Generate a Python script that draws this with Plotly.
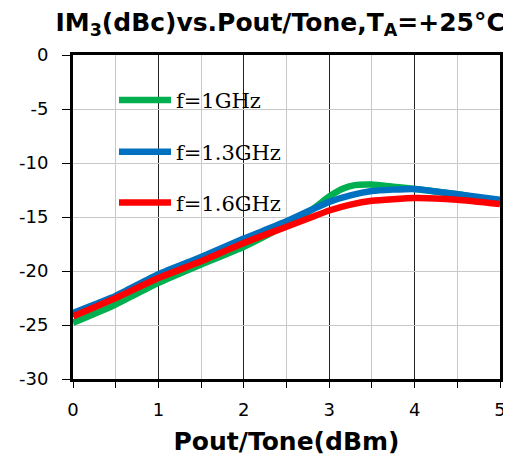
import plotly.graph_objects as go

x_green = [0, 0.5, 1, 1.5, 2, 2.5, 2.8, 3.0, 3.15, 3.3, 3.5, 3.75, 4, 4.5, 5]
y_green = [-24.8, -23.1, -21.1, -19.4, -17.75, -15.7, -14.3, -13.1, -12.4, -12.05, -12.0, -12.2, -12.4, -12.9, -13.6]

x_blue = [0, 0.25, 0.5, 1, 1.5, 2, 2.5, 2.8, 3, 3.25, 3.5, 4, 4.5, 5]
y_blue = [-23.9, -23.1, -22.3, -20.3, -18.7, -17.0, -15.4, -14.3, -13.6, -13.0, -12.6, -12.4, -12.9, -13.4]

x_red = [0, 0.5, 1, 1.5, 2, 2.5, 2.8, 3, 3.25, 3.5, 4, 4.5, 5]
y_red = [-24.2, -22.5, -20.65, -19.1, -17.4, -15.9, -15.0, -14.4, -13.85, -13.5, -13.25, -13.4, -13.8]

names = ["f=1GHz", "f=1.3GHz", "f=1.6GHz"]
colors = ["#00B050", "#0070C0", "#FF0000"]
x_ticks = [0, 1, 2, 3, 4, 5]
y_ticks = [0, -5, -10, -15, -20, -25, -30]

fig = go.Figure()
legend_ids = ["legend", "legend2", "legend3"]
for xs, ys, nm, c, lg in zip([x_green, x_blue, x_red], [y_green, y_blue, y_red], names, colors, legend_ids):
    fig.add_trace(go.Scatter(x=xs, y=ys, mode="lines", name=nm,
                             line=dict(color=c, width=6.5, shape="spline", smoothing=0.5),
                             legend=lg))

legend_font = dict(family="DejaVu Serif, Liberation Serif, serif", size=21, color="black")
leg_common = dict(bgcolor="rgba(0,0,0,0)", font=legend_font, xanchor="left", yanchor="middle",
                  itemwidth=52, tracegroupgap=0)
fig.update_layout(
    width=503, height=457,
    margin=dict(l=65, r=11, t=47, b=86),
    paper_bgcolor="white", plot_bgcolor="white",
    title=dict(text="IM<sub>3</sub>(dBc)vs.Pout/Tone,T<sub>A</sub>=+25°C",
               font=dict(family="DejaVu Sans", size=25, color="black", weight="bold"),
               x=0.541, xanchor="center", y=0.969, yanchor="middle"),
    legend=dict(x=0.096, y=(-4.2 + 30) / 30, **leg_common),
    legend2=dict(x=0.096, y=(-9.0 + 30) / 30, **leg_common),
    legend3=dict(x=0.096, y=(-13.7 + 30) / 30, **leg_common),
    showlegend=True,
)
fig.update_xaxes(range=[0, 5], tickvals=x_ticks, ticktext=[str(v) for v in x_ticks],
                 automargin=False,
                 showline=True, linecolor="black", linewidth=3, mirror=True,
                 showgrid=True, gridcolor="#222222", gridwidth=1,
                 ticks="outside", ticklen=6, tickcolor="black", ticklabelstandoff=6,
                 minor=dict(dtick=0.5, showgrid=True, gridcolor="#C8C8C8", gridwidth=1,
                            ticks="outside", ticklen=6, tickcolor="black"),
                 tickfont=dict(family="DejaVu Sans", size=18, color="black"),
                 title=dict(text="Pout/Tone(dBm)", standoff=14,
                            font=dict(family="DejaVu Sans", size=25, color="black", weight="bold")),
                 zeroline=False)
fig.update_yaxes(range=[-30, 0], tickvals=y_ticks, ticktext=[str(v) for v in y_ticks],
                 automargin=False,
                 showline=True, linecolor="black", linewidth=3, mirror=True,
                 showgrid=True, gridcolor="#C8C8C8", gridwidth=1,
                 ticks="outside", ticklen=8, tickcolor="black", ticklabelstandoff=10,
                 tickfont=dict(family="DejaVu Sans", size=18, color="black"),
                 zeroline=False)

fig.write_html("out.html")
